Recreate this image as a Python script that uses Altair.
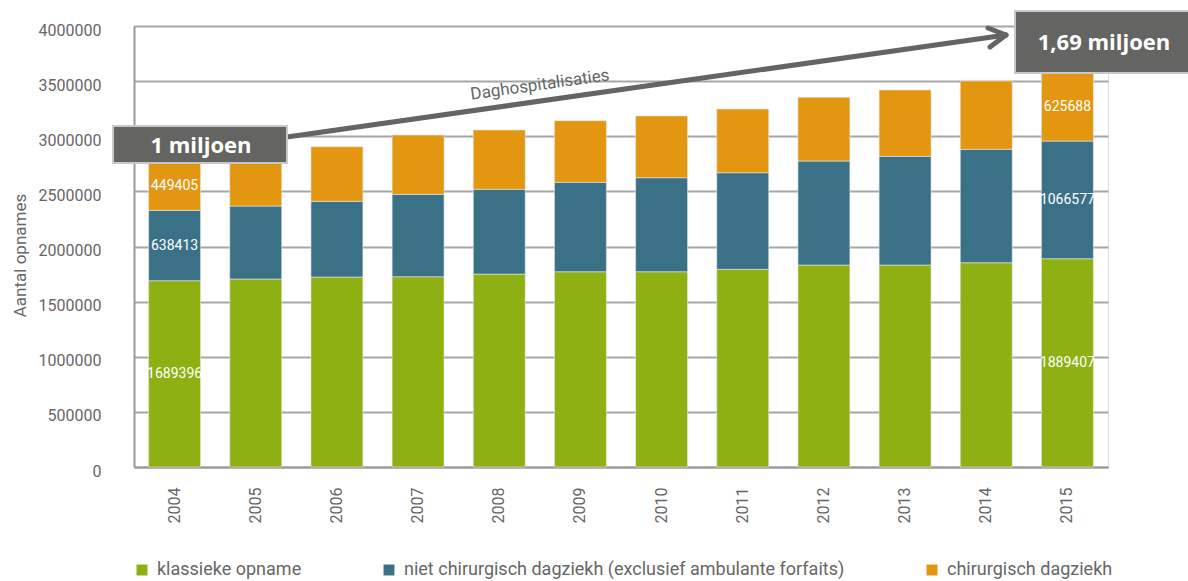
import altair as alt
import pandas as pd

years = [str(y) for y in range(2004, 2016)]
klassieke = [1689396, 1705000, 1723000, 1726000, 1750000, 1771000,
             1771000, 1793000, 1832000, 1832000, 1853000, 1889407]
niet_chir = [638413, 662000, 687000, 747000, 769000, 811000,
             853000, 876000, 943500, 986000, 1028000, 1066577]
chir = [449405, 478000, 495000, 538000, 538000, 559000,
        560000, 578000, 577500, 601500, 620000, 625688]
series_names = ["klassieke opname",
                "niet chirurgisch dagziekh (exclusief ambulante forfaits)",
                "chirurgisch dagziekh"]
colors = ["#8fb013", "#3b7186", "#e3960f"]
label_years = ["2004", "2015"]
y_ticks = [0, 500000, 1000000, 1500000, 2000000, 2500000, 3000000, 3500000, 4000000]

rows = []
for i, y in enumerate(years):
    for k, vals in enumerate([klassieke, niet_chir, chir]):
        rows.append({"jaar": y, "reeks": series_names[k], "volgorde": k, "waarde": vals[i]})
df = pd.DataFrame(rows)

FONT = "Roboto"
BOXFONT = "Open Sans"
GREY = "#646562"

base = alt.Chart(df).transform_stack(
    stack="waarde", groupby=["jaar"], as_=["y0", "y1"],
    sort=[alt.SortField(field="volgorde", order="ascending")]
).transform_calculate(mid="(datum.y0 + datum.y1) / 2")

xenc = alt.X("jaar:N", title=None,
             scale=alt.Scale(paddingInner=0.36, paddingOuter=0.18),
             axis=alt.Axis(labelAngle=270, labelAlign="right", labelBaseline="middle",
                           labelPadding=20, ticks=False, domainColor="#999999",
                           domainWidth=2, labelFontSize=16, labelColor="#666666",
                           labelFont=FONT, grid=False))

bars = base.mark_bar(stroke="#e6e6e6", strokeWidth=0.6).encode(
    x=xenc,
    y=alt.Y("y0:Q", title="Aantal opnames",
            scale=alt.Scale(domain=[0, 4000000], nice=False),
            axis=alt.Axis(values=y_ticks, format="d", grid=True, gridColor="#a6a6a6",
                          gridWidth=2, domainColor="#999999", domainWidth=2, ticks=False,
                          labelPadding=33, labelFontSize=16, labelColor="#666666",
                          labelFont=FONT, labelOffset=4,
                          titleFont=FONT, titleFontSize=17, titleColor="#666666",
                          titleFontWeight="normal", titleAngle=270,
                          titleAlign="center", titleBaseline="middle",
                          titleX=-114, titleY=229)),
    y2="y1:Q",
    color=alt.Color("reeks:N", scale=alt.Scale(domain=series_names, range=colors),
                    legend=alt.Legend(title=None, orient="none", direction="horizontal",
                                      legendX=-1, legendY=535, symbolType="square",
                                      symbolSize=120, symbolStrokeWidth=0,
                                      labelFont=FONT, labelFontSize=18,
                                      labelColor="#666666", labelLimit=700,
                                      labelOffset=6, columnPadding=78))
)

labels = base.transform_filter(
    alt.FieldOneOfPredicate(field="jaar", oneOf=label_years)
).mark_text(color="white", fontSize=14, font=FONT).encode(
    x="jaar:N", y="mid:Q", text=alt.Text("waarde:Q", format="d")
)

one = alt.Chart(pd.DataFrame({"a": [0]}))

arrow = one.mark_rule(color=GREY, strokeWidth=5).encode(
    x=alt.value(153), y=alt.value(111), x2=alt.value(872), y2=alt.value(9))
arm1 = one.mark_rule(color=GREY, strokeWidth=5, strokeCap="round").encode(
    x=alt.value(872), y=alt.value(9), x2=alt.value(854), y2=alt.value(2))
arm2 = one.mark_rule(color=GREY, strokeWidth=5, strokeCap="round").encode(
    x=alt.value(872), y=alt.value(9), x2=alt.value(856), y2=alt.value(21))

dag = one.mark_text(text="Daghospitalisaties", angle=352, font=FONT, fontSize=17,
                    color="#666666").encode(x=alt.value(406), y=alt.value(59))

box1 = one.mark_rect(fill=GREY, stroke="#c8c8c8", strokeWidth=2).encode(
    x=alt.value(-21), x2=alt.value(153), y=alt.value(100), y2=alt.value(137))
box1t = one.mark_text(text="1 miljoen", font=BOXFONT, fontWeight="bold", fontSize=22,
                      color="white").encode(x=alt.value(67), y=alt.value(120))
box2 = one.mark_rect(fill=GREY, stroke="#c8c8c8", strokeWidth=2).encode(
    x=alt.value(881), x2=alt.value(1060), y=alt.value(-15), y2=alt.value(47))
box2t = one.mark_text(text="1,69 miljoen", font=BOXFONT, fontWeight="bold", fontSize=22,
                      color="white").encode(x=alt.value(970), y=alt.value(17))

chart = alt.layer(bars, labels, arrow, arm1, arm2, dag, box1, box1t, box2, box2t).properties(
    width=974, height=441,
    autosize=alt.AutoSizeParams(type="none"),
    padding={"left": 134, "top": 26, "right": 80, "bottom": 114},
).configure_view(stroke=None).configure(background="white")

chart.save("out.html", embed_options={"renderer": "svg", "actions": False})
